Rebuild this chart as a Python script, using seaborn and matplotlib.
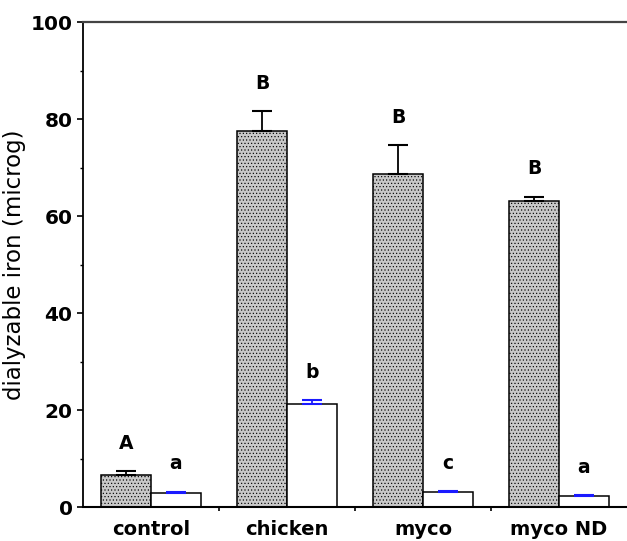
# dialyzable iron per treatment, two fractions per group
import pandas as pd
import matplotlib
matplotlib.use('Agg')
import matplotlib.pyplot as plt
from matplotlib.ticker import MultipleLocator, FixedLocator
import seaborn as sns

# data
groups = ['control', 'chicken', 'myco', 'myco ND']
kinds = ['gray', 'white']
gray_vals = [6.6, 77.6, 68.7, 63.2]
gray_err = [0.8, 4.0, 5.9, 0.8]
white_vals = [2.9, 21.2, 3.2, 2.3]
white_err = [0.3, 0.9, 0.1, 0.2]
gray_letters = ['A', 'B', 'B', 'B']
white_letters = ['a', 'b', 'c', 'a']

df = pd.DataFrame({
    'group': groups * 2,
    'kind': [kinds[0]] * 4 + [kinds[1]] * 4,
    'iron': gray_vals + white_vals,
})

sns.set_style('ticks', {'axes.edgecolor': 'black', 'text.color': 'black',
                        'axes.labelcolor': 'black', 'xtick.color': 'black',
                        'ytick.color': 'black'})
plt.rcParams['font.family'] = ['DejaVu Sans']
plt.rcParams['hatch.linewidth'] = 0.45

fig = plt.figure(figsize=(6.27, 5.41), dpi=100)
ax = fig.add_axes([0.1324, 0.0628, 0.8676, 0.8965])

sns.barplot(data=df, x='group', y='iron', hue='kind', order=groups,
            hue_order=kinds, palette=['#c8c8c8', 'white'], edgecolor='black',
            linewidth=1.1, width=0.735, errorbar=None, legend=False, ax=ax)

# gray bars get a stipple
for bar in ax.containers[0]:
    bar.set_hatch('.....')

# one-sided error bars and significance letters
for cont, vals, errs, letters, ecol in [
        (ax.containers[0], gray_vals, gray_err, gray_letters, 'black'),
        (ax.containers[1], white_vals, white_err, white_letters, '#1a1aff')]:
    xs = [b.get_x() + b.get_width() / 2 for b in cont]
    ax.errorbar(xs, vals, yerr=[[0] * 4, errs], fmt='none', ecolor=ecol,
                elinewidth=1.3, capsize=7.5, capthick=1.5, zorder=3)
    for x, v, e, t in zip(xs, vals, errs, letters):
        ax.text(x, v + e + 4.6, t, ha='center', va='baseline',
                fontsize=13.5, fontweight='bold', color='black')

ax.set_xlim(-0.5, 3.5)
ax.set_ylim(0, 100)
ax.yaxis.set_major_locator(MultipleLocator(20))
ax.yaxis.set_minor_locator(MultipleLocator(10))
ax.xaxis.set_minor_locator(FixedLocator([0.5, 1.5, 2.5]))

ax.tick_params(axis='y', which='major', length=4.5, width=1.2, pad=3,
               labelsize=14.5)
ax.tick_params(axis='y', which='minor', length=2.5, width=1.0)
ax.tick_params(axis='x', which='major', length=0, pad=9, labelsize=14)
ax.tick_params(axis='x', which='minor', length=3, width=1.2)
for lab in ax.get_xticklabels() + ax.get_yticklabels():
    lab.set_fontweight('bold')

ax.set_xlabel('')
ax.set_ylabel('dialyzable iron (microg)', fontsize=16.5, labelpad=3)

ax.spines['right'].set_visible(False)
ax.spines['left'].set_linewidth(1.3)
ax.spines['bottom'].set_linewidth(1.5)
ax.spines['top'].set_linewidth(1.6)
ax.spines['top'].set_color('#444444')

fig.savefig('out.png', dpi=100)
